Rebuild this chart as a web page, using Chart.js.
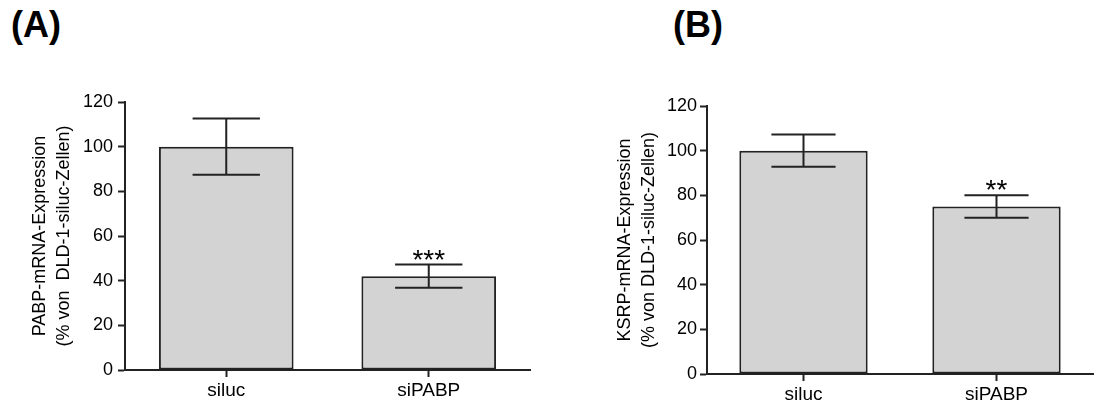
<!DOCTYPE html>
<html>
<head>
<meta charset="utf-8">
<script src="https://cdn.jsdelivr.net/npm/chart.js@4.4.1/dist/chart.umd.min.js"></script>
<style>
body { margin: 0; background: #fff; width: 1109px; height: 405px; position: relative; overflow: hidden; }
.panel { position: absolute; top: 7px; font: bold 36px "Liberation Sans", Arial, sans-serif; line-height: 36px; color: #000; }
#wrapA { position: absolute; left: 0; top: 0; width: 545px; height: 405px; }
#wrapB { position: absolute; left: 560px; top: 0; width: 549px; height: 405px; }
</style>
</head>
<body>
<div class="panel" style="left:11px">(A)</div>
<div class="panel" style="left:673px">(B)</div>
<div id="wrapA"><canvas id="chartA"></canvas></div>
<div id="wrapB"><canvas id="chartB"></canvas></div>
<script>
// Kategorien und Werte
const categories = ['siluc', 'siPABP'];
const yTicksMax = 120;
const yStep = 20;

// (A) PABP
const valuesA = [100, 42];
const errorsA = [12.6, 5.2];
const starsA = ['', '***'];
const titleA = ['PABP-mRNA-Expression', '(% von  DLD-1-siluc-Zellen)'];

// (B) KSRP
const valuesB = [100, 75];
const errorsB = [7.2, 5];
const starsB = ['', '**'];
const titleB = ['KSRP-mRNA-Expression', '(% von DLD-1-siluc-Zellen)'];

const FONT = '"Liberation Sans", Arial, sans-serif';

// Fehlerbalken + Sterne
const errorBarPlugin = {
id: 'errorBars',
afterDatasetsDraw(chart) {
const ctx = chart.ctx;
const yScale = chart.scales.y;
const meta = chart.getDatasetMeta(0);
const errs = chart.options.plugins.errorBars.errors;
const stars = chart.options.plugins.errorBars.stars;
const vals = chart.data.datasets[0].data;
ctx.save();
ctx.strokeStyle = '#222';
ctx.lineWidth = 2;
meta.data.forEach(function(bar, i) {
const x = bar.x;
const half = bar.width / 4;
const yHi = yScale.getPixelForValue(vals[i] + errs[i]);
const yLo = yScale.getPixelForValue(vals[i] - errs[i]);
ctx.beginPath();
ctx.moveTo(x, yHi); ctx.lineTo(x, yLo);
ctx.moveTo(x - half, yHi); ctx.lineTo(x + half, yHi);
ctx.moveTo(x - half, yLo); ctx.lineTo(x + half, yLo);
ctx.stroke();
if (stars[i]) {
ctx.fillStyle = '#000';
ctx.font = '28px ' + FONT;
ctx.textAlign = 'center';
ctx.textBaseline = 'alphabetic';
ctx.fillText(stars[i], x, yHi + 4);
}
});
ctx.restore();
}
};

function createChart(myID, values, errors, stars, title, opts) {
const config = {
type: 'bar',
data: {
labels: categories,
datasets: [{
data: values,
backgroundColor: '#d3d3d3',
borderColor: '#222',
borderWidth: 2,
borderSkipped: false,
categoryPercentage: 1,
barPercentage: 0.665
}]
},
options: {
responsive: true,
maintainAspectRatio: false,
animation: false,
layout: {
padding: { top: opts.top, right: opts.right, left: 0, bottom: 0 }
},
scales: {
x: {
grid: {
display: true,
offset: false,
drawOnChartArea: false,
drawTicks: true,
tickLength: 7,
tickWidth: 2,
tickColor: '#222'
},
border: { display: true, color: '#222', width: 2 },
ticks: { color: '#000', font: { family: FONT, size: 19 }, padding: 2, maxRotation: 0 },
afterFit: function(scale) { scale.height = opts.xHeight; }
},
y: {
min: 0,
max: yTicksMax,
grid: {
display: true,
drawOnChartArea: false,
drawTicks: true,
tickLength: 7,
tickWidth: 2,
tickColor: '#222'
},
border: { display: true, color: '#222', width: 2 },
ticks: { stepSize: yStep, color: '#000', font: { family: FONT, size: 18 }, padding: opts.tickPad },
title: {
display: true,
text: title,
color: '#000',
font: { family: FONT, size: 18, lineHeight: 1.33 },
padding: { top: opts.titleTop, bottom: 0 }
},
afterFit: function(scale) { scale.width = opts.yWidth; }
}
},
plugins: {
legend: { display: false },
tooltip: { enabled: false },
errorBars: { errors: errors, stars: stars }
}
},
plugins: [errorBarPlugin]
};
return new Chart(document.getElementById(myID), config);
}

createChart('chartA', valuesA, errorsA, starsA, titleA,
{ top: 102, right: 15, xHeight: 35, yWidth: 125, tickPad: 5, titleTop: 28 });
createChart('chartB', valuesB, errorsB, starsB, titleB,
{ top: 106, right: 16, xHeight: 31, yWidth: 147, tickPad: 3, titleTop: 53 });
</script>
</body>
</html>
